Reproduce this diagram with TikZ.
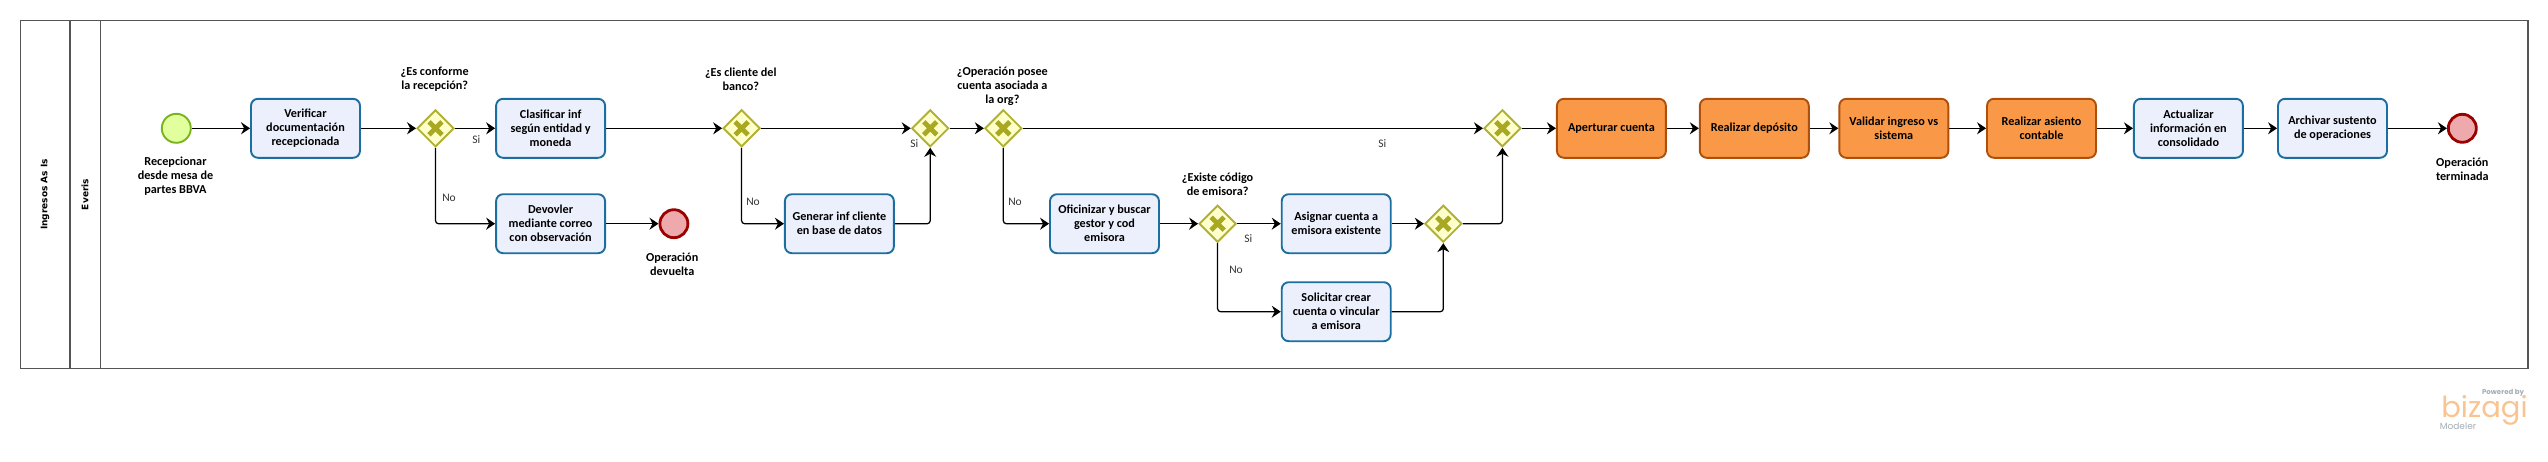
\documentclass[tikz,border=0pt]{standalone}
\usepackage{fontspec}
\setmainfont{Carlito}
\newfontfamily\poolfont{DejaVu Sans}
\newfontfamily\logofont{Poppins}
\usetikzlibrary{arrows.meta,shapes.geometric}
\definecolor{taskfill}{HTML}{ECF0FD}
\definecolor{taskline}{HTML}{1B6E9F}
\definecolor{orfill}{HTML}{F99847}
\definecolor{orline}{HTML}{AE4F0B}
\definecolor{gatefill}{HTML}{FFFFCC}
\definecolor{gateline}{HTML}{B0B034}
\definecolor{gatex}{HTML}{A8A822}
\definecolor{startfill}{HTML}{E2FF9E}
\definecolor{startline}{HTML}{77B41E}
\definecolor{endfill}{HTML}{EEA9AD}
\definecolor{endline}{HTML}{990000}
\definecolor{poolline}{HTML}{555555}
\definecolor{logoor}{HTML}{F9C491}
\definecolor{logogr}{HTML}{A3ADB5}
\tikzset{
  x=1pt,y=-1pt,
  txt/.style={font=\bfseries\fontsize{12.2}{14}\selectfont,align=center,inner sep=0pt,text=black},
  lbl/.style={txt},
  flowlbl/.style={font=\fontsize{11.5}{14}\selectfont,inner sep=0pt,text=black!80},
  taskbox/.style={txt,draw=taskline,fill=taskfill,line width=1.9pt,rounded corners=7pt,minimum width=109pt,minimum height=59pt},
  orbox/.style={txt,draw=orline,fill=orfill,line width=1.9pt,rounded corners=7pt,minimum width=109pt,minimum height=59pt},
  gate/.style={diamond,aspect=1,draw=gateline,fill=gatefill,line width=1.9pt,minimum width=37pt,minimum height=37pt,inner sep=0pt,
    path picture={\draw[gatex,line width=4.8pt] ([shift={(-6.5pt,-6.5pt)}]path picture bounding box.center) -- ([shift={(6.5pt,6.5pt)}]path picture bounding box.center) ([shift={(-6.5pt,6.5pt)}]path picture bounding box.center) -- ([shift={(6.5pt,-6.5pt)}]path picture bounding box.center);}},
  startev/.style={circle,draw=startline,fill=startfill,line width=1.9pt,minimum size=29pt,inner sep=0pt},
  endev/.style={circle,draw=endline,fill=endfill,line width=2.8pt,minimum size=28pt,inner sep=0pt},
  flow/.style={draw=black,line width=1.25pt,rounded corners=3pt,-{Stealth[length=9pt,width=12pt,inset=3pt]}},
  poolrule/.style={draw=poolline,line width=1.2pt},
  pooltxt/.style={font=\poolfont\bfseries\fontsize{9}{11}\selectfont,rotate=90,inner sep=0pt,text=black},
}
\begin{document}
\begin{tikzpicture}
\useasboundingbox (0,0) rectangle (2548,461);
\draw[poolrule] (20.5,20.5) rectangle (2528,368.5);
\draw[poolrule] (70,20.5) -- (70,368.5);
\draw[poolrule] (100.5,20.5) -- (100.5,368.5);
\node[pooltxt] (pool) at (45,194.5) {Ingresos As Is};
\node[pooltxt] (lane) at (85,194.5) {Everis};

\node[startev] (start) at (176.3,128.3) {};
\node[taskbox] (verif) at (305.5,128.3) {Verificar\\documentación\\recepcionada};
\node[gate] (g1) at (435.5,128.3) {};
\node[taskbox] (clas) at (550.6,128.3) {Clasificar inf\\según entidad y\\moneda};
\node[taskbox] (devo) at (550.6,223.7) {Devovler\\mediante correo\\con observación};
\node[endev] (end1) at (673.9,223.7) {};
\node[gate] (g2) at (741.6,128.3) {};
\node[taskbox] (gene) at (839.4,223.7) {Generar inf cliente\\en base de datos};
\node[gate] (g3) at (930.2,128.3) {};
\node[gate] (g4) at (1003.3,128.3) {};
\node[taskbox] (ofic) at (1104.5,223.7) {Oficinizar y buscar\\gestor y cod\\emisora};
\node[gate] (g5) at (1217.6,223.7) {};
\node[taskbox] (asig) at (1336.2,223.7) {Asignar cuenta a\\emisora existente};
\node[taskbox] (soli) at (1336.2,311.7) {Solicitar crear\\cuenta o vincular\\a emisora};
\node[gate] (g6) at (1443.3,223.7) {};
\node[gate] (g7) at (1502.4,128.3) {};
\node[orbox] (aper) at (1611.4,128.3) {\raisebox{1pt}{Aperturar cuenta}};
\node[orbox] (depo) at (1754.3,128.3) {\raisebox{1pt}{Realizar depósito}};
\node[orbox] (vali) at (1893.8,128.3) {Validar ingreso vs\\sistema};
\node[orbox] (asie) at (2041.5,128.3) {Realizar asiento\\contable};
\node[taskbox] (actu) at (2188.4,128.3) {Actualizar\\información en\\consolidado};
\node[taskbox] (arch) at (2332.5,128.3) {Archivar sustento\\de operaciones};
\node[endev] (end2) at (2462.3,128.3) {};

\node[lbl] (l1) at (175.5,176) {Recepcionar\\desde mesa de\\partes BBVA};
\node[lbl] (l2) at (434.7,79) {¿Es conforme\\la recepción?};
\node[lbl] (l3) at (672.2,264) {Operación\\devuelta};
\node[lbl] (l4) at (740.8,79) {¿Es cliente del\\banco?};
\node[lbl] (l5) at (1002.4,86) {¿Operación posee\\cuenta asociada a\\la org?};
\node[lbl] (l6) at (1217.6,184) {¿Existe código\\de emisora?};
\node[lbl] (l7) at (2462.3,169) {Operación\\terminada};

\node[flowlbl] (s1) at (476.3,140) {Si};
\node[flowlbl] (n1) at (449,198.3) {No};
\node[flowlbl] (n2) at (753,202.3) {No};
\node[flowlbl] (s2) at (914.3,144) {Si};
\node[flowlbl] (n3) at (1015,202.3) {No};
\node[flowlbl] (s3) at (1248.2,239) {Si};
\node[flowlbl] (n4) at (1236,270) {No};
\node[flowlbl] (s4) at (1382.4,144) {Si};

\draw[flow] (start) -- (verif);
\draw[flow] (verif) -- (g1);
\draw[flow] (g1) -- (clas);
\draw[flow] (g1.south) |- (devo.west);
\draw[flow] (devo) -- (end1);
\draw[flow] (clas) -- (g2);
\draw[flow] (g2) -- (g3);
\draw[flow] (g2.south) |- (gene.west);
\draw[flow] (gene.east) -| (g3.south);
\draw[flow] (g3) -- (g4);
\draw[flow] (g4) -- (g7);
\draw[flow] (g4.south) |- (ofic.west);
\draw[flow] (ofic) -- (g5);
\draw[flow] (g5) -- (asig);
\draw[flow] (g5.south) |- (soli.west);
\draw[flow] (asig) -- (g6);
\draw[flow] (soli.east) -| (g6.south);
\draw[flow] (g6.east) -| (g7.south);
\draw[flow] (g7) -- (aper);
\draw[flow] (aper) -- (depo);
\draw[flow] (depo) -- (vali);
\draw[flow] (vali) -- (asie);
\draw[flow] (asie) -- (actu);
\draw[flow] (actu) -- (arch);
\draw[flow] (arch) -- (end2);

\node[font=\logofont\bfseries\fontsize{7}{9}\selectfont,text=logogr,inner sep=0pt] (pw) at (2503,392.5) {Powered by};
\node[font=\logofont\fontsize{29}{30}\selectfont,text=logoor,inner sep=0pt] (bz) at (2484.5,410) {bizagi};
\node[font=\logofont\fontsize{9}{9}\selectfont,text=logogr,inner sep=0pt] (md) at (2458,426.5) {Modeler};
\end{tikzpicture}
\end{document}
